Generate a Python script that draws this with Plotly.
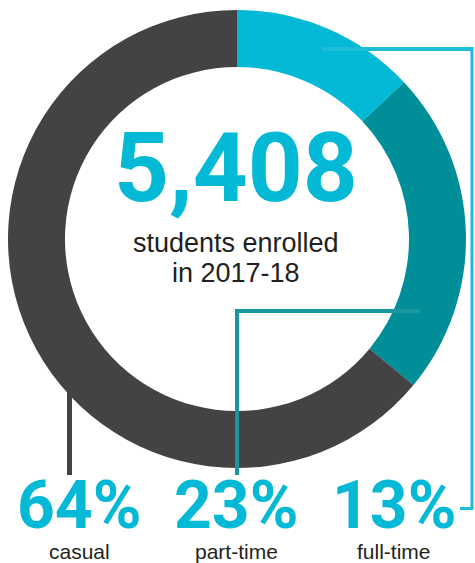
import plotly.graph_objects as go

# Enrolment mix, 2017-18
categories = ["full-time", "part-time", "casual"]
shares = [13, 23, 64]
colors = ["#03b9d5", "#008f99", "#434244"]
total_students = "5,408"
subtitle = ["students enrolled", "in 2017-18"]

W, H = 475, 563
cx, cy, r_out, r_in = 237, 239, 229, 172

fig = go.Figure()

fig.add_trace(go.Pie(
    labels=categories,
    values=shares,
    sort=False,
    direction="clockwise",
    rotation=0,
    hole=r_in / r_out,
    marker=dict(colors=colors, line=dict(width=0)),
    textinfo="none",
    hoverinfo="label+percent",
    showlegend=False,
    domain=dict(x=[(cx - r_out) / W, (cx + r_out) / W],
                y=[1 - (cy + r_out) / H, 1 - (cy - r_out) / H]),
))

# invisible trace to set up pixel-space axes for leader lines
fig.add_trace(go.Scatter(x=[0, W], y=[0, H], mode="markers",
                         marker=dict(opacity=0), hoverinfo="skip", showlegend=False))

def seg(x0, y0, x1, y1, color, width):
    fig.add_shape(type="line", x0=x0, y0=y0, x1=x1, y1=y1, xref="x", yref="y",
                  line=dict(color=color, width=width), layer="above")

# leader lines from each slice to its label
seg(322, 49, 472, 49, "#1bbcd8", 4)
seg(472, 47, 472, 510, "#1bbcd8", 3)
seg(472, 508.5, 460, 508.5, "#1bbcd8", 3)

seg(420, 311, 235.5, 311, "#1a969f", 4)
seg(237, 309, 237, 475, "#1a969f", 4)

seg(69.5, 392, 69.5, 475, "#434244", 5)

heavy = "Roboto"
cyan = "#03b9d5"
ink = "#231f20"

fig.add_annotation(x=236, y=168, text=total_students, showarrow=False,
                   xref="x", yref="y",
                   font=dict(family=heavy, size=96, color=cyan, weight=700),
                   xanchor="center", yanchor="middle")
fig.add_annotation(x=236, y=243, text=subtitle[0], showarrow=False, xref="x", yref="y",
                   font=dict(family="Liberation Sans", size=27, color=ink),
                   xanchor="center", yanchor="middle")
fig.add_annotation(x=236, y=273, text=subtitle[1], showarrow=False, xref="x", yref="y",
                   font=dict(family="Liberation Sans", size=27, color=ink),
                   xanchor="center", yanchor="middle")

# percentage and category name under each slice's leader line
label_x = {"casual": 79, "part-time": 236, "full-time": 394}
for cat, val in zip(categories, shares):
    fig.add_annotation(x=label_x[cat], y=505.5, text="%d%%" % val, showarrow=False,
                       xref="x", yref="y", borderpad=0,
                       font=dict(family=heavy, size=66, color=cyan, weight=700),
                       xanchor="center", yanchor="middle")
    fig.add_annotation(x=label_x[cat], y=551, text=cat, showarrow=False,
                       xref="x", yref="y", borderpad=0,
                       font=dict(family="Liberation Sans", size=21, color=ink),
                       xanchor="center", yanchor="middle")

fig.update_xaxes(range=[0, W], visible=False, fixedrange=True)
fig.update_yaxes(range=[H, 0], visible=False, fixedrange=True)
fig.update_layout(width=W, height=H, margin=dict(l=0, r=0, t=0, b=0),
                  paper_bgcolor="white", plot_bgcolor="white")

fig.write_html("out.html")
